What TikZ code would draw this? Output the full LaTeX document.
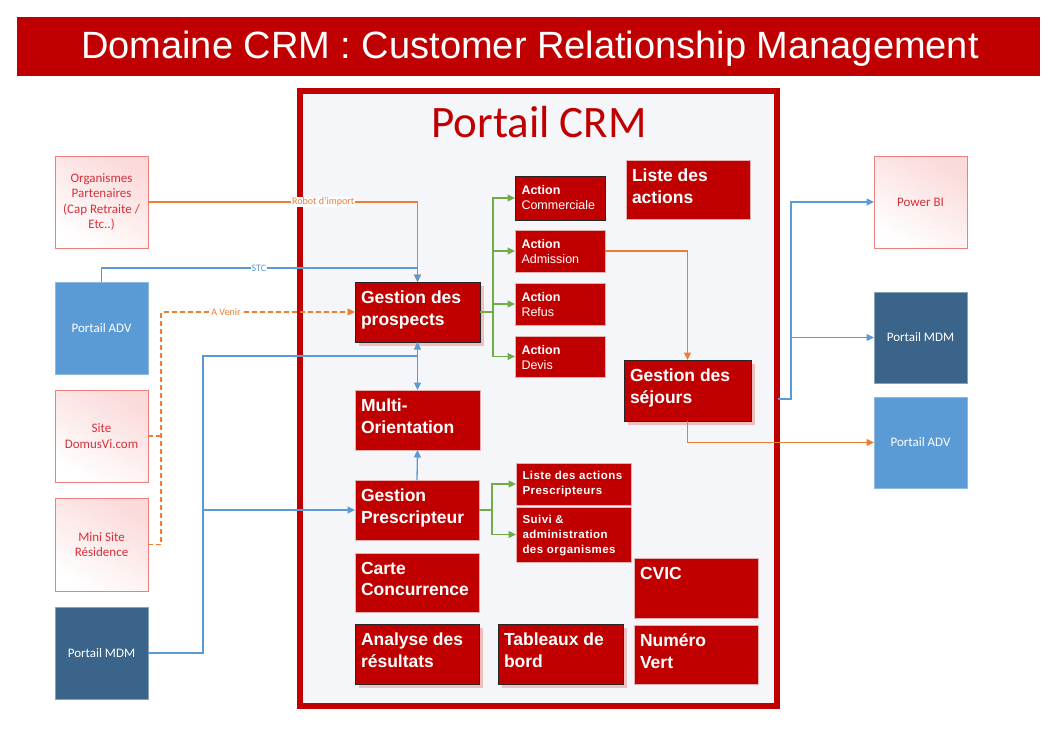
\documentclass[tikz,border=0pt]{standalone}
\usepackage{fontspec}
\setmainfont{Liberation Sans}
\newfontfamily\calfont{Carlito}
\newfontfamily\lsfont{Liberation Sans}[LetterSpace=4]
\usetikzlibrary{arrows.meta,shadows}
\definecolor{crmred}{HTML}{C00000}
\definecolor{lorange}{HTML}{ED7D31}
\definecolor{lblue}{HTML}{5B9BD5}
\definecolor{lgreen}{HTML}{70AD47}
\definecolor{mdmfill}{HTML}{3A6489}
\definecolor{advfill}{HTML}{5B9BD5}
\definecolor{paleborder}{HTML}{EF7F7F}
\definecolor{palepink}{HTML}{FBDADA}
\definecolor{paletext}{HTML}{D6303A}
\definecolor{framefill}{HTML}{F4F6FA}
\definecolor{lightedge}{HTML}{E6B0B0}
\definecolor{glowc}{HTML}{F2B0B0}
\begin{document}
\begin{tikzpicture}[x=1pt,y=-1pt,
  >={Triangle[length=7.5pt,width=7pt]},
  every node/.style={outer sep=0pt},
  cb/.style={rectangle, anchor=north west, inner sep=0pt, fill=crmred, draw=lightedge, line width=0.8pt},
  blk/.style={draw=black!85, line width=1pt},
  glow/.style={drop shadow={shadow xshift=3.5pt, shadow yshift=-3.5pt, fill=glowc, opacity=0.8}},
  bigt/.style={anchor=north west, xshift=6pt, yshift=-9pt, inner sep=0pt, align=left, text=white, font=\fontsize{17.5}{21.5}\selectfont\bfseries},
  actt/.style={anchor=north west, xshift=6.5pt, yshift=-9pt, inner sep=0pt, align=left, text=white, font=\fontsize{12.5}{15}\selectfont},
  smt/.style={anchor=north west, xshift=6.5pt, yshift=-8pt, inner sep=0pt, align=left, text=white, font=\lsfont\fontsize{11.5}{15.3}\selectfont\bfseries},
  sq/.style={rectangle, anchor=north west, inner sep=0pt, minimum width=93pt, minimum height=92pt, align=center, font=\calfont\fontsize{13}{15.3}\selectfont},
  pale/.style={sq, draw=paleborder, line width=1pt, top color=palepink, bottom color=white, shading angle=-30, text=paletext},
  adv/.style={sq, fill=advfill, draw=advfill!70!white, line width=0.8pt, text=white},
  mdm/.style={sq, fill=mdmfill, draw=mdmfill!60!white, line width=0.8pt, text=white},
  con/.style={line width=1.3pt},
  oline/.style={con, draw=lorange},
  odash/.style={con, draw=lorange, dash pattern=on 5pt off 3pt},
  bline/.style={con, draw=lblue},
  gline/.style={con, draw=lgreen},
  lbl/.style={fill=white, inner sep=1pt, font=\calfont\fontsize{10}{11}\selectfont}
]
\useasboundingbox (0,0) rectangle (1060,753);
\fill[white] (0,0) rectangle (1060,753);

% title
\node[rectangle, anchor=north west, fill=crmred, minimum width=1023pt, minimum height=59pt, inner sep=0pt] (tbar) at (17,17) {};
\node[anchor=base, text=white, inner sep=0pt, font=\fontsize{38}{44}\selectfont] (ttl) at (530,58.3) {Domaine CRM : Customer Relationship Management};

% frame
\node[rectangle, anchor=north west, inner sep=0pt, minimum width=477pt, minimum height=615pt, draw=crmred, line width=6pt, fill=framefill] (frame) at (300,91) {};
\node[anchor=base, inner sep=0pt, text=crmred, font=\calfont\fontsize{45}{54}\selectfont] (pct) at (539,137) {Portail CRM};

% central boxes
\node[cb, blk, glow, minimum width=125pt, minimum height=60pt, label={[bigt,name=gpt]north west:{Gestion des\\prospects}}] (gp) at (355,282) {};
\node[cb, minimum width=125pt, minimum height=60pt, label={[bigt,name=mot]north west:{Multi-\\Orientation}}] (mo) at (355,390) {};
\node[cb, minimum width=124pt, minimum height=60pt, label={[bigt,name=gprt]north west:{Gestion\\Prescripteur}}] (gpr) at (355,480) {};
\node[cb, minimum width=124pt, minimum height=59pt, label={[bigt,name=cct]north west:{Carte\\Concurrence}}] (cc) at (355,553) {};
\node[cb, blk, glow, minimum width=124pt, minimum height=60pt, label={[bigt,name=ant]north west:{Analyse des\\résultats}}] (an) at (355,624) {};
\node[cb, blk, glow, minimum width=125pt, minimum height=60pt, label={[bigt,name=tbt]north west:{Tableaux de\\bord}}] (tb) at (498,624) {};
\node[cb, minimum width=124pt, minimum height=59pt, label={[bigt,name=lat]north west:{Liste des\\actions}}] (la) at (626,160) {};
\node[cb, blk, glow, minimum width=127pt, minimum height=61pt, label={[bigt,name=gst]north west:{Gestion des\\séjours}}] (gs) at (624,360) {};
\node[cb, minimum width=124pt, minimum height=60pt, label={[bigt,name=cvt]north west:{CVIC}}] (cv) at (634,558) {};
\node[cb, minimum width=124pt, minimum height=59pt, label={[bigt,name=nvt]north west:{Numéro\\Vert}}] (nv) at (634,625) {};

\node[cb, blk, minimum width=90pt, minimum height=44pt, label={[actt,name=a1t]north west:{\textbf{Action}\\Commerciale}}] (a1) at (515,176) {};
\node[cb, minimum width=90pt, minimum height=42pt, label={[actt,name=a2t]north west:{\textbf{Action}\\Admission}}] (a2) at (515,230) {};
\node[cb, minimum width=90pt, minimum height=42pt, label={[actt,name=a3t]north west:{\textbf{Action}\\Refus}}] (a3) at (515,283) {};
\node[cb, minimum width=90pt, minimum height=41pt, label={[actt,name=a4t]north west:{\textbf{Action}\\Devis}}] (a4) at (515,336) {};

\node[cb, minimum width=115pt, minimum height=42pt, label={[smt,name=lpt]north west:{Liste des actions\\Prescripteurs}}] (lp) at (516,463) {};
\node[cb, minimum width=115pt, minimum height=55pt, label={[smt,name=svt]north west:{Suivi \&\\administration\\des organismes}}] (sv) at (516,507) {};

% outer boxes
\node[pale] (op) at (55,156) {Organismes\\Partenaires\\(Cap Retraite /\\Etc..)};
\node[adv] (adv1) at (55,282) {Portail ADV};
\node[pale] (sd) at (55,390) {Site\\DomusVi.com};
\node[pale, minimum height=93pt] (ms) at (55,498) {Mini Site\\Résidence};
\node[mdm] (mdm1) at (55,607) {Portail MDM};
\node[pale] (pbi) at (874,156) {Power BI};
\node[mdm, minimum height=91pt] (mdm2) at (874,292) {Portail MDM};
\node[adv, minimum height=91pt] (adv2) at (874,397) {Portail ADV};

% coordinates
\coordinate (stcj) at ([yshift=14pt]gp.north);
\coordinate (avj) at (161,312);
\coordinate (bvj) at (203,356);
\coordinate (gj1) at (493,312);
\coordinate (gj2) at (492,510);
\coordinate (fo) at (778,399);
\coordinate (bj) at (791,399);

% connectors
\draw[oline,->] (op.east) -| (gp.north) node[lbl, text=lorange, pos=0.325] (lrob) {Robot d’import};
\draw[bline,->] (adv1.north) |- (stcj) node[lbl, text=lblue, pos=0.749] (lstc) {STC} -- (gp.north);
\draw[odash,->] (ms.east) -| (avj) -- (gp.west) node[lbl, text=lorange, pos=0.335] (lav) {A Venir};
\draw[odash] (sd.east) -- (sd.east -| avj);
\draw[bline] (mdm1.east) -| (bvj) -- (bvj -| gp.south);
\draw[bline,->] (gpr.west -| bvj) -- (gpr.west);
\draw[bline,<->] (gp.south) -- (mo.north);
\draw[bline,->] (gpr.north) -- (mo.south);
\foreach \t in {a1,a2,a3,a4} \draw[gline,->] (gp.east) -- (gj1) |- (\t.west);
\foreach \t in {lp,sv} \draw[gline,->] (gpr.east) -- (gj2) |- (\t.west);
\draw[oline,->] (a2.east) -| (gs.north);
\draw[oline,->] (gs.south) |- (adv2.west);
\draw[bline,->] (fo) -- (bj) |- (pbi.west);
\draw[bline,->] (bj) |- (mdm2.west);
\end{tikzpicture}
\end{document}
